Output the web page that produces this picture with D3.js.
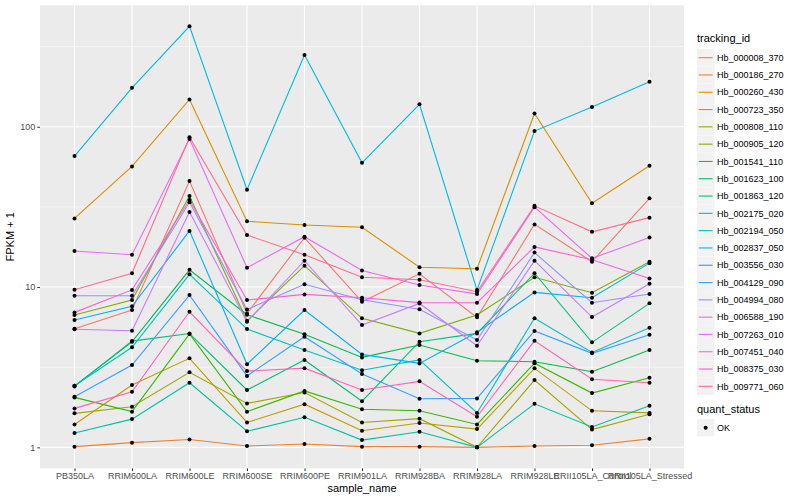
<!DOCTYPE html>
<meta charset="utf-8">
<html>
<body style="margin:0;background:#fff">
<script src="https://d3js.org/d3.v7.min.js"></script>
<script>
// samples along the x axis
var samples = ["PB350LA", "RRIM600LA", "RRIM600LE", "RRIM600SE", "RRIM600PE", "RRIM901LA",
               "RRIM928BA", "RRIM928LA", "RRIM928LE", "RRII105LA_Control", "RRII105LA_Stressed"];

var trackingIds = ["Hb_000008_370", "Hb_000186_270", "Hb_000260_430", "Hb_000723_350", "Hb_000808_110",
                   "Hb_000905_120", "Hb_001541_110", "Hb_001623_100", "Hb_001863_120", "Hb_002175_020",
                   "Hb_002194_050", "Hb_002837_050", "Hb_003556_030", "Hb_004129_090", "Hb_004994_080",
                   "Hb_006588_190", "Hb_007263_010", "Hb_007451_040", "Hb_008375_030", "Hb_009771_060"];

// FPKM + 1, one value per sample
var hb_000008_370 = [5.5, 7.19, 45.8, 6.84, 20.3, 8.09, 12.1, 6.47, 24.6, 14.4, 35.8];
var hb_000186_270 = [1.01, 1.07, 1.12, 1.02, 1.05, 1.01, 1.01, 1.0, 1.02, 1.03, 1.13];
var hb_000260_430 = [26.8, 56.6, 148, 25.7, 24.4, 23.6, 13.3, 13.0, 121, 33.3, 57.1];
var hb_000723_350 = [1.39, 2.45, 3.59, 1.43, 1.86, 1.27, 1.42, 1.3, 3.11, 1.69, 1.64];
var hb_000808_110 = [1.63, 1.79, 2.94, 1.88, 2.2, 1.43, 1.51, 1.0, 2.63, 1.29, 1.61];
var hb_000905_120 = [6.69, 8.3, 37.0, 6.16, 13.6, 6.38, 5.14, 6.69, 11.5, 9.22, 14.4];
var hb_001541_110 = [2.05, 1.67, 5.1, 1.67, 2.25, 1.73, 1.69, 1.39, 3.35, 2.18, 2.72];
var hb_001623_100 = [2.42, 4.55, 12.8, 6.72, 5.07, 3.64, 4.35, 3.47, 3.42, 2.96, 4.05];
var hb_001863_120 = [2.4, 4.6, 5.13, 2.28, 3.51, 1.94, 4.56, 5.14, 12.2, 4.52, 7.91];
var hb_002175_020 = [1.23, 1.5, 2.53, 1.26, 1.54, 1.11, 1.25, 1.0, 1.87, 1.34, 1.82];
var hb_002194_050 = [2.42, 4.21, 12.0, 5.47, 4.05, 3.03, 3.51, 1.64, 6.38, 3.91, 5.57];
var hb_002837_050 = [65.6, 175, 423, 40.5, 280, 59.6, 138, 9.58, 94, 133, 191];
var hb_003556_030 = [6.23, 7.58, 22.4, 3.3, 7.19, 3.8, 3.34, 5.22, 9.26, 8.58, 14.1];
var hb_004129_090 = [2.07, 3.26, 8.91, 2.79, 4.9, 2.87, 2.01, 2.02, 5.32, 3.86, 5.04];
var hb_004994_080 = [8.83, 8.83, 33.8, 7.24, 10.4, 8.33, 7.27, 4.67, 16.4, 7.98, 9.04];
var hb_006588_190 = [5.45, 5.34, 29.4, 6.07, 14.6, 5.79, 7.9, 4.3, 14.6, 6.5, 10.5];
var hb_007263_010 = [16.8, 15.9, 83.8, 13.2, 20.6, 12.7, 10.3, 9.04, 31.5, 15.1, 20.4];
var hb_007451_040 = [6.95, 9.6, 34.9, 8.3, 9.0, 8.58, 8.0, 7.98, 17.8, 14.8, 11.3];
var hb_008375_030 = [1.75, 2.22, 7.01, 2.99, 3.12, 2.28, 2.58, 1.55, 4.62, 2.66, 2.53];
var hb_009771_060 = [9.62, 12.2, 85.9, 21.1, 15.9, 11.5, 11.1, 9.35, 32.1, 22.1, 27.1];

var series = [hb_000008_370, hb_000186_270, hb_000260_430, hb_000723_350, hb_000808_110,
              hb_000905_120, hb_001541_110, hb_001623_100, hb_001863_120, hb_002175_020,
              hb_002194_050, hb_002837_050, hb_003556_030, hb_004129_090, hb_004994_080,
              hb_006588_190, hb_007263_010, hb_007451_040, hb_008375_030, hb_009771_060];

// default ggplot hue palette for 20 groups
var colors = ["#F8766D", "#EA8331", "#D89000", "#C09B00", "#A3A500", "#7CAE00", "#39B600", "#00BB4E",
              "#00BF7D", "#00C1A3", "#00BFC4", "#00BAE0", "#00B0F6", "#35A2FF", "#9590FF", "#C77CFF",
              "#E76BF3", "#FA62DB", "#FF62BC", "#FF6C90"];

var svg = d3.select("body").append("svg")
    .attr("width", 800).attr("height", 500)
    .style("font-family", "'Liberation Sans', Arial, sans-serif");

svg.append("rect").attr("width", 800).attr("height", 500).attr("fill", "#fff");

var panel = {left: 40, right: 684, top: 5.3, bottom: 468.4};

var x = d3.scalePoint().domain(samples).range([panel.left, panel.right]).padding(0.6);

// log scale, expanded by 5% on each side like ggplot
var all = d3.merge(series);
var lo = Math.log10(d3.min(all)), hi = Math.log10(d3.max(all));
var pad = (hi - lo) * 0.05;
var y = d3.scaleLog()
    .domain([Math.pow(10, lo - pad), Math.pow(10, hi + pad)])
    .range([panel.bottom, panel.top]);

// panel background
svg.append("rect")
    .attr("x", panel.left).attr("y", panel.top)
    .attr("width", panel.right - panel.left).attr("height", panel.bottom - panel.top)
    .attr("fill", "#EBEBEB");

// minor grid (half decades)
svg.selectAll(".minor")
    .data([Math.pow(10, 0.5), Math.pow(10, 1.5), Math.pow(10, 2.5)])
    .enter().append("line")
    .attr("x1", panel.left).attr("x2", panel.right)
    .attr("y1", function (d) { return y(d); }).attr("y2", function (d) { return y(d); })
    .attr("stroke", "#fff").attr("stroke-width", 0.55);

// major grid
svg.selectAll(".majorY")
    .data([1, 10, 100])
    .enter().append("line")
    .attr("x1", panel.left).attr("x2", panel.right)
    .attr("y1", function (d) { return y(d); }).attr("y2", function (d) { return y(d); })
    .attr("stroke", "#fff").attr("stroke-width", 1.1);

svg.selectAll(".majorX")
    .data(samples)
    .enter().append("line")
    .attr("x1", function (d) { return x(d); }).attr("x2", function (d) { return x(d); })
    .attr("y1", panel.top).attr("y2", panel.bottom)
    .attr("stroke", "#fff").attr("stroke-width", 1.1);

// axes
var yAxis = svg.append("g")
    .attr("transform", "translate(" + panel.left + ",0)")
    .call(d3.axisLeft(y).tickValues([1, 10, 100]).tickFormat(d3.format("d")).tickSize(2.7).tickPadding(2));

var xAxis = svg.append("g")
    .attr("transform", "translate(0," + panel.bottom + ")")
    .call(d3.axisBottom(x).tickSize(2.7).tickPadding(2));

[xAxis, yAxis].forEach(function (a) {
    a.select(".domain").remove();
    a.selectAll("line").attr("stroke", "#333");
    a.selectAll("text").attr("fill", "#4D4D4D").style("font-size", "9px")
        .style("font-family", "'Liberation Sans', Arial, sans-serif");
});

svg.append("text")
    .attr("x", (panel.left + panel.right) / 2).attr("y", 492)
    .attr("text-anchor", "middle").style("font-size", "11px")
    .text("sample_name");

svg.append("text")
    .attr("transform", "translate(14," + (panel.top + panel.bottom) / 2 + ") rotate(-90)")
    .attr("text-anchor", "middle").style("font-size", "11px")
    .text("FPKM + 1");

// lines, one per tracking id
var line = d3.line()
    .x(function (d, i) { return x(samples[i]); })
    .y(function (d) { return y(d); });

svg.selectAll(".series")
    .data(series)
    .enter().append("path")
    .attr("d", line)
    .attr("fill", "none")
    .attr("stroke", function (d, i) { return colors[i]; })
    .attr("stroke-width", 1.1);

// points on top
series.forEach(function (vals) {
    svg.append("g").selectAll("circle")
        .data(vals)
        .enter().append("circle")
        .attr("cx", function (d, i) { return x(samples[i]); })
        .attr("cy", function (d) { return y(d); })
        .attr("r", 2)
        .attr("fill", "#000");
});

// legend: tracking_id
var lg = svg.append("g");
lg.append("text").attr("x", 697).attr("y", 42).style("font-size", "11px").text("tracking_id");

var keys = lg.selectAll(".key")
    .data(trackingIds)
    .enter().append("g")
    .attr("transform", function (d, i) { return "translate(697," + (49 + i * 17.3) + ")"; });

keys.append("rect").attr("width", 17.3).attr("height", 17.3).attr("fill", "#F2F2F2");
keys.append("line")
    .attr("x1", 1.7).attr("x2", 15.6).attr("y1", 8.65).attr("y2", 8.65)
    .attr("stroke", function (d, i) { return colors[i]; }).attr("stroke-width", 1.1);
keys.append("text")
    .attr("x", 20).attr("y", 11.9)
    .style("font-size", "9px").attr("fill", "#000")
    .text(function (d) { return d; });

// legend: quant_status
lg.append("text").attr("x", 697).attr("y", 413).style("font-size", "11px").text("quant_status");
var ok = lg.append("g").attr("transform", "translate(697,419)");
ok.append("rect").attr("width", 17.3).attr("height", 17.3).attr("fill", "#F2F2F2");
ok.append("circle").attr("cx", 8.65).attr("cy", 8.65).attr("r", 2).attr("fill", "#000");
ok.append("text").attr("x", 20).attr("y", 11.9).style("font-size", "9px").text("OK");
</script>
</body>
</html>
